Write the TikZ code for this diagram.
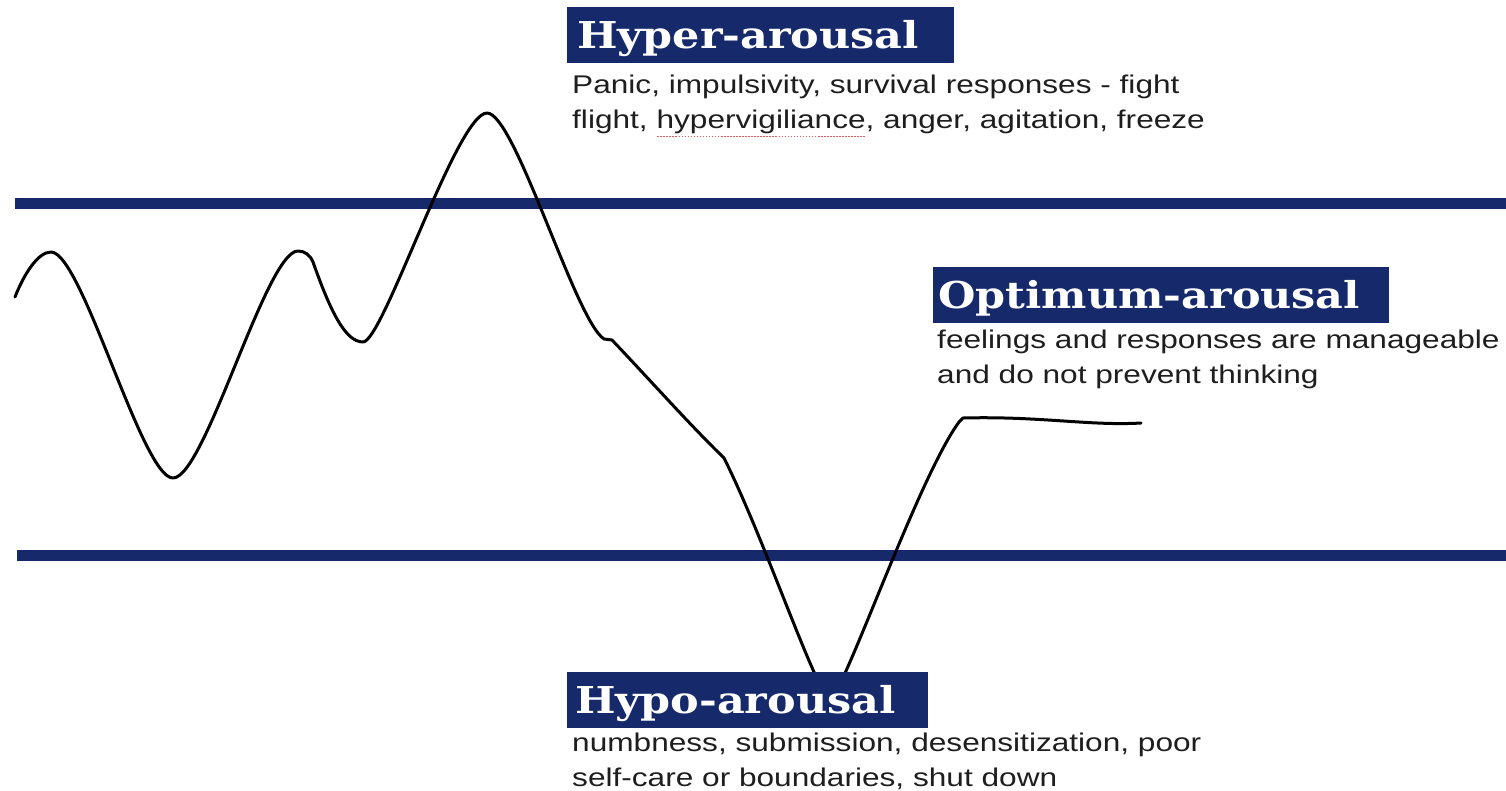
\documentclass[tikz,border=0pt]{standalone}
\usepackage{fontspec}
\newfontfamily\bodyfont[FakeStretch=1.235]{Liberation Sans}
\newfontfamily\titlefont[FakeStretch=1.16]{DejaVu Serif}
\definecolor{navy}{HTML}{16296A}
\definecolor{ink}{HTML}{1E1E1E}
\definecolor{spell}{HTML}{E35A5A}
\newcommand\spellmark[1]{\setbox0=\hbox{#1}\leavevmode\rlap{\raisebox{-9pt}{\color{spell}\hbox to \wd0{\xleaders\hbox to 3pt{\hss\rule{1.6pt}{1.5pt}\hss}\hfill}}}\box0}
\tikzset{
  band/.style={line width=11pt, draw=navy},
  wave/.style={line width=3pt, line cap=round, line join=round, draw=black},
  titlebox/.style={fill=navy, text=white, anchor=north west, inner xsep=10pt, inner ysep=0pt,
    minimum height=56pt, text height=33pt, text depth=7pt, align=left,
    font=\titlefont\bfseries\fontsize{37}{40}\selectfont},
  bodytext/.style={anchor=base west, inner sep=0pt, text=ink}
}
\newcommand\bodypar[1]{\parbox[t]{700pt}{\bodyfont\fontsize{25.6}{35}\selectfont #1}}
\begin{document}
\begin{tikzpicture}[x=1pt,y=-1pt]
\useasboundingbox (0,0) rectangle (1506,790);
% bands
\coordinate (t1) at (15,203.5);
\coordinate (t2) at (1506,203.5);
\coordinate (b1) at (17,555.5);
\coordinate (b2) at (1506,555.5);
\draw[band] (t1) -- (t2);
\draw[band] (b1) -- (b2);
% wave
\coordinate (w0) at (15,297);
\coordinate (p1) at (51,252);
\coordinate (v1) at (173,478);
\coordinate (p2) at (298,251);
\coordinate (k2) at (313,262);
\coordinate (v2) at (363,342);
\coordinate (p3) at (487,113);
\coordinate (k3) at (604,339);
\coordinate (k4) at (612,340);
\coordinate (k5) at (724,458);
\coordinate (v3) at (830,700);
\coordinate (k6) at (959,422);
\coordinate (k7) at (963,418);
\coordinate (w1) at (1141,423);
\draw[wave] (w0) .. controls (24,274) and (38,252) .. (p1)
  .. controls (82,252) and (142,478) .. (v1)
  .. controls (205,478) and (266,251) .. (p2)
  .. controls (305,251) and (310,255) .. (k2)
  .. controls (330,310) and (345,342) .. (v2)
  .. controls (383,342) and (457,113) .. (p3)
  .. controls (515,113) and (575,320) .. (k3)
  -- (k4)
  .. controls (650,380) and (690,425) .. (k5)
  .. controls (765,540) and (815,690) .. (v3)
  .. controls (845,690) and (918,478) .. (k6)
  -- (k7)
  .. controls (1040,416) and (1090,426) .. (w1);
% titles
\node[titlebox, text width=367pt] (hyper) at (567,7) {Hyper-arousal};
\node[titlebox, inner xsep=5pt, text width=446pt] (optimum) at (933,267) {Optimum-arousal};
\node[titlebox, inner xsep=8pt, text width=345pt] (hypo) at (567,672) {Hypo-arousal};
% descriptions
\node[bodytext] (hyperdesc) at (572,93) {\bodypar{Panic, impulsivity, survival responses - fight\\
flight, \spellmark{hypervigiliance}, anger, agitation, freeze}};
\node[bodytext] (optdesc) at (937,348) {\bodypar{feelings and responses are manageable\\
and do not prevent thinking}};
\node[bodytext] (hypodesc) at (572,751) {\bodypar{numbness, submission, desensitization, poor\\
self-care or boundaries, shut down}};
\end{tikzpicture}
\end{document}
